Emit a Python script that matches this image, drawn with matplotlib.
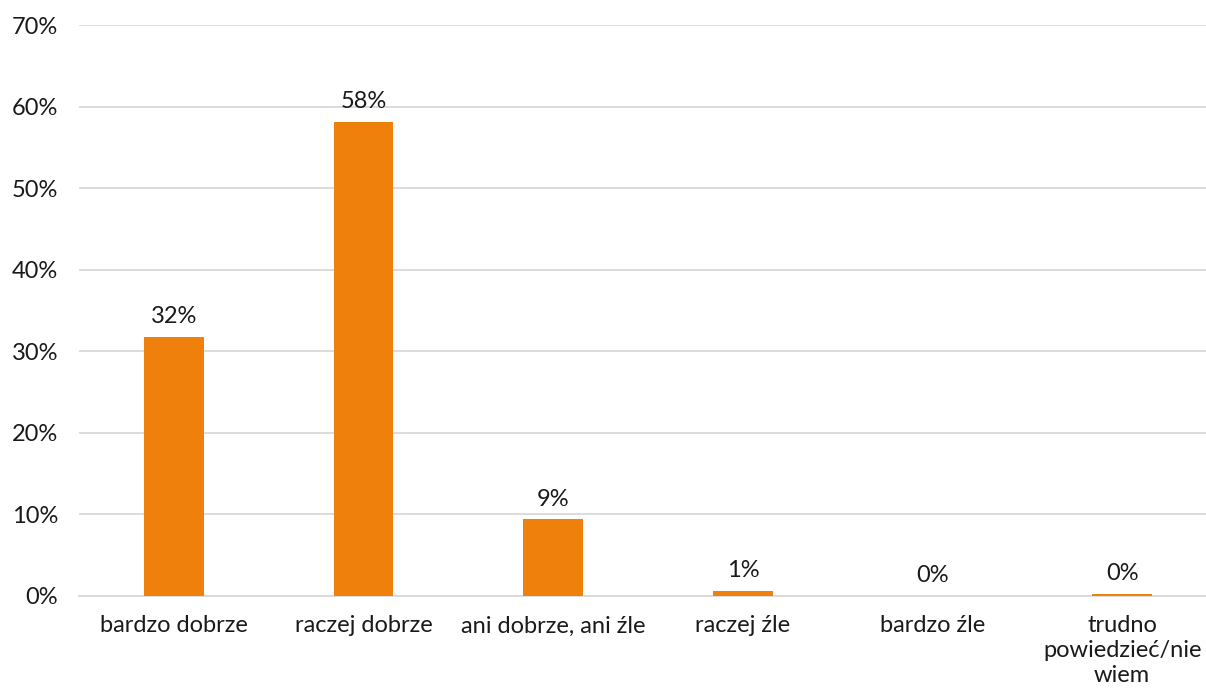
import numpy as np
import matplotlib.pyplot as plt

categories = ['bardzo dobrze', 'raczej dobrze', 'ani dobrze, ani źle', 'raczej źle',
              'bardzo źle', 'trudno\npowiedzieć/nie\nwiem']
values = [0.318, 0.581, 0.094, 0.006, 0.0, 0.003]
labels = ['32%', '58%', '9%', '1%', '0%', '0%']

plt.rcParams['font.family'] = ['Lato', 'DejaVu Sans']

fig = plt.figure(figsize=(12.06, 6.93), dpi=100)
ax = fig.add_axes([79/1206, 1 - 596/693, 1138/1206, 571/693])

x = np.arange(len(categories))
bars = ax.bar(x, values, width=0.315, color='#f0800c', zorder=3)

for xi, v, lab in zip(x, values, labels):
    ax.annotate(lab, xy=(xi, v), xytext=(0, 7), textcoords='offset points',
                ha='center', va='bottom', fontsize=17, color='#1a1a1a')

ax.set_xlim(-0.5, len(categories) - 0.5)
ax.set_ylim(0, 0.7)
ax.set_yticks(np.arange(0, 0.71, 0.1))
ax.set_yticklabels(['%d%%' % round(t * 100) for t in np.arange(0, 0.71, 0.1)])
ax.yaxis.grid(True, color='#d9d9d9', linewidth=1.3, zorder=0)
ax.set_xticks(x)
ax.set_xticklabels(categories, linespacing=1.22)
ax.tick_params(axis='both', length=0, labelsize=17, colors='#1a1a1a')
ax.tick_params(axis='y', pad=15)
ax.tick_params(axis='x', pad=14)
for s in ['top', 'right', 'left']:
    ax.spines[s].set_visible(False)
ax.spines['bottom'].set_color('#d9d9d9')
ax.spines['bottom'].set_linewidth(1.3)

fig.savefig('out.png', dpi=100)
plt.close(fig)
